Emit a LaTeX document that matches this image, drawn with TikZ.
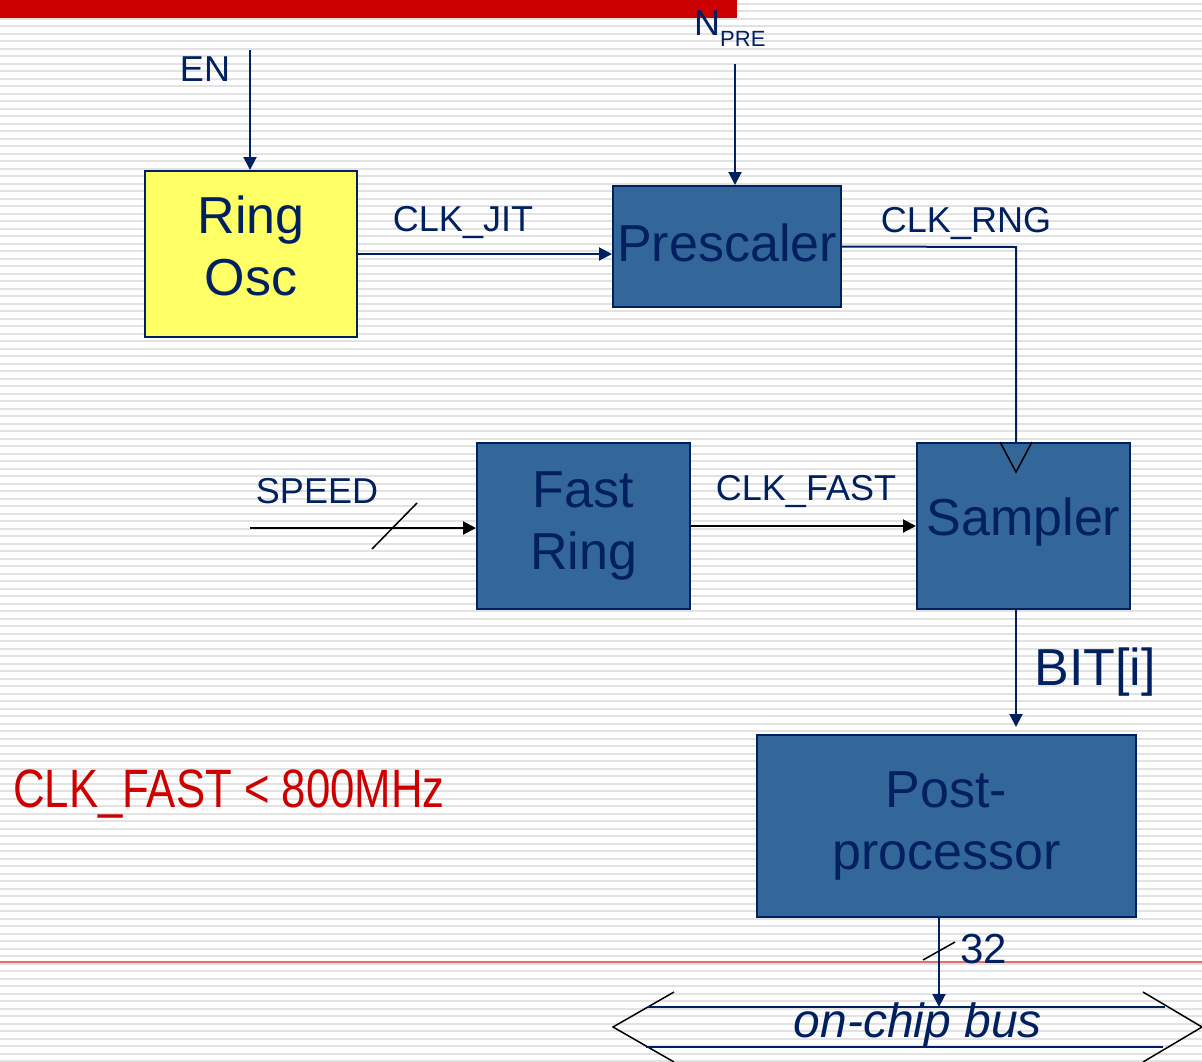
\documentclass[tikz,border=0pt]{standalone}
\usepackage{fontspec}
\setmainfont{Liberation Sans}
\newfontfamily\narrowFont[FakeStretch=0.81]{Liberation Sans}
\usetikzlibrary{arrows.meta, positioning}

\definecolor{navyText}{RGB}{0,32,96}
\definecolor{blockBlue}{RGB}{51,102,153}
\definecolor{oscYellow}{RGB}{255,255,102}
\definecolor{barRed}{RGB}{204,0,0}
\definecolor{lineRed}{RGB}{224,112,112}
\definecolor{stripeGray}{RGB}{226,226,226}

\newcommand{\bigFont}{\fontsize{52}{62}\selectfont}
\newcommand{\sigFont}{\fontsize{36}{43}\selectfont}

\begin{document}
\begin{tikzpicture}[x=1pt, y=-1pt, node distance=100pt, on grid]

    \tikzset{
        blockBox/.style={draw=navyText, line width=2pt, fill=blockBlue, text=navyText, minimum width=213pt, minimum height=166pt, inner sep=0pt, align=center, font=\bigFont},
        oscBox/.style={blockBox, fill=oscYellow},
        sigLabel/.style={text=navyText, font=\sigFont, inner sep=0pt},
        navyArrow/.style={draw=navyText, line width=2pt, -{Triangle[length=13pt, width=13pt]}},
        blackArrow/.style={draw=black, line width=2pt, -{Triangle[length=13pt, width=13pt]}},
        busLine/.style={draw=navyText, line width=2pt},
        tickMark/.style={draw=black, line width=1.5pt}
    }

    \useasboundingbox (0,0) rectangle (1202,1061);

    % Fondo (rayas y barras)
    \foreach \k in {0,...,141}
        \draw[stripeGray, line width=2pt] (0,{3.5+7.5*\k}) -- (1202,{3.5+7.5*\k});
    \fill[barRed] (0,0) rectangle (737,18);
    \draw[lineRed, line width=1.5pt] (0,962) -- (1202,962);

    % Bloques
    \node[oscBox, minimum width=212pt, text depth=16pt] (ro) at (251,254) {Ring\\Osc};
    \node[blockBox, minimum width=228pt, minimum height=121pt, text depth=7pt] (pre) at (727,246.5) {Prescaler};
    \node[blockBox] (fr) at (583.5,526) {Fast\\Ring};
    \node[blockBox, text depth=18pt] (smp) [right=440pt of fr] {Sampler};
    \node[blockBox, minimum width=379pt, minimum height=182pt] (pp) at (946.5,826) {Post-\\processor};

    % Entradas y esquinas
    \coordinate (enIn) at (250,50);
    \coordinate (preIn) at (735,64);
    \coordinate (speedIn) at (250,528);
    \coordinate (rngCorner) at (1016,247);
    \coordinate (clkIn) at (rngCorner |- smp.north);
    \coordinate (busTop) at (939,1007);

    % Senales
    \draw[navyArrow] (enIn) -- (enIn |- ro.north);
    \draw[navyArrow] (preIn) -- (preIn |- pre.north);
    \draw[navyArrow] (ro.east) -- (ro.east -| pre.west);
    \draw[navyText, line width=2pt] (pre.east) -- (rngCorner) -- (clkIn);
    \draw[black, line width=1.5pt] ([xshift=-16pt]clkIn) -- ([yshift=-30pt]clkIn) -- ([xshift=16pt]clkIn);
    \draw[blackArrow] (speedIn) -- (speedIn -| fr.west);
    \draw[tickMark] (372,549) -- (417,503);
    \draw[blackArrow] (fr.east) -- (smp.west);
    \draw[navyArrow, shorten >=7pt] (clkIn |- smp.south) -- (clkIn |- pp.north);
    \draw[navyArrow] (busTop |- pp.south) -- (busTop);
    \draw[tickMark] (923,960) -- (955,942);

    % Bus
    \draw[black, line width=1.5pt] (674,992) -- (613,1027) -- (674,1062);
    \draw[black, line width=1.5pt] (1143,992) -- (1202,1027) -- (1143,1062);
    \draw[busLine] (648,1007) -- (1165,1007);
    \draw[busLine] (646,1047) -- (1163,1047);

    % Etiquetas
    \node[sigLabel, anchor=base] (enLbl) at (205,81) {EN};
    \node[sigLabel, anchor=base west] (npreLbl) at (694,35) {N\raisebox{-11pt}{\fontsize{22}{26}\selectfont PRE}};
    \node[sigLabel, anchor=base] (jitLbl) at (463,231) {CLK\_JIT};
    \node[sigLabel, anchor=base] (rngLbl) at (966,232) {CLK\_RNG};
    \node[sigLabel, anchor=base] (speedLbl) at (317,503) {SPEED};
    \node[sigLabel, anchor=base] (fastLbl) at (806,500) {CLK\_FAST};
    \node[sigLabel, anchor=base, font=\bigFont] (bitLbl) at (1095,685) {BIT[i]};
    \node[sigLabel, anchor=base west, font=\fontsize{42}{50}\selectfont] (widthLbl) at (960,963) {32};
    \node[sigLabel, font=\fontsize{48}{58}\selectfont\itshape] (busLbl) at (918,1025) {on-chip bus};
    \node[anchor=base west, inner sep=0pt, text=barRed, font=\narrowFont\fontsize{54}{64}\selectfont] (noteLbl) at (13,807) {CLK\_FAST < 800MHz};

\end{tikzpicture}
\end{document}
